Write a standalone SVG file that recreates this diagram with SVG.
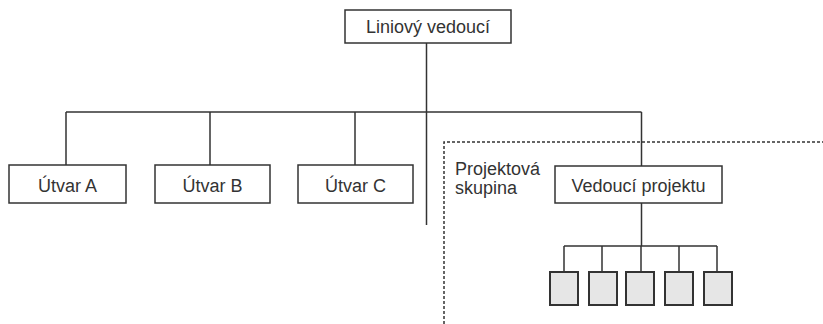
<svg xmlns="http://www.w3.org/2000/svg" width="823" height="324" viewBox="0 0 823 324">
<style>
.box{fill:#fff;stroke:#333;stroke-width:1.5}
.sbox{fill:#e6e6e6;stroke:#333;stroke-width:2}
.ln{fill:none;stroke:#333;stroke-width:1.5}
.dash{fill:none;stroke:#333;stroke-width:1.5;stroke-dasharray:3,2}
text{font-family:"Liberation Sans",Arial,sans-serif;font-size:18px;fill:#333}
.c{text-anchor:middle}
</style>
<rect width="823" height="324" fill="#fff"/>
<g id="connectors">
<path class="ln" d="M426.5 43V225"/>
<path class="ln" d="M66 112H641.5"/>
<path class="ln" d="M66 112V165M210 112V165M355 112V165M641.5 112V166"/>
<path class="ln" d="M641.5 203V246M564 246H717M564 246V272M602 246V272M641 246V272M679 246V272M717 246V272"/>
</g>
<g id="projektova-skupina">
<path class="dash" d="M444 324V142H823"/>
<text x="455" y="175">Projektová</text>
<text x="455" y="194">skupina</text>
</g>
<g id="liniovy-vedouci"><rect class="box" x="345" y="10" width="166" height="33"/><text class="c" x="428" y="33">Liniový vedoucí</text></g>
<g id="utvar-a"><rect class="box" x="9" y="165" width="117" height="38"/><text class="c" x="67.5" y="192">Útvar A</text></g>
<g id="utvar-b"><rect class="box" x="155" y="165" width="115" height="38"/><text class="c" x="212.5" y="192">Útvar B</text></g>
<g id="utvar-c"><rect class="box" x="298" y="165" width="115" height="38"/><text class="c" x="355.5" y="192">Útvar C</text></g>
<g id="vedouci-projektu"><rect class="box" x="555" y="166" width="167" height="37"/><text class="c" x="638.5" y="192">Vedoucí projektu</text></g>
<g id="clen1"><rect class="sbox" x="550" y="272" width="28" height="33"/></g>
<g id="clen2"><rect class="sbox" x="589" y="272" width="28" height="33"/></g>
<g id="clen3"><rect class="sbox" x="626" y="272" width="28" height="33"/></g>
<g id="clen4"><rect class="sbox" x="665" y="272" width="28" height="33"/></g>
<g id="clen5"><rect class="sbox" x="704" y="272" width="28" height="33"/></g>
</svg>
